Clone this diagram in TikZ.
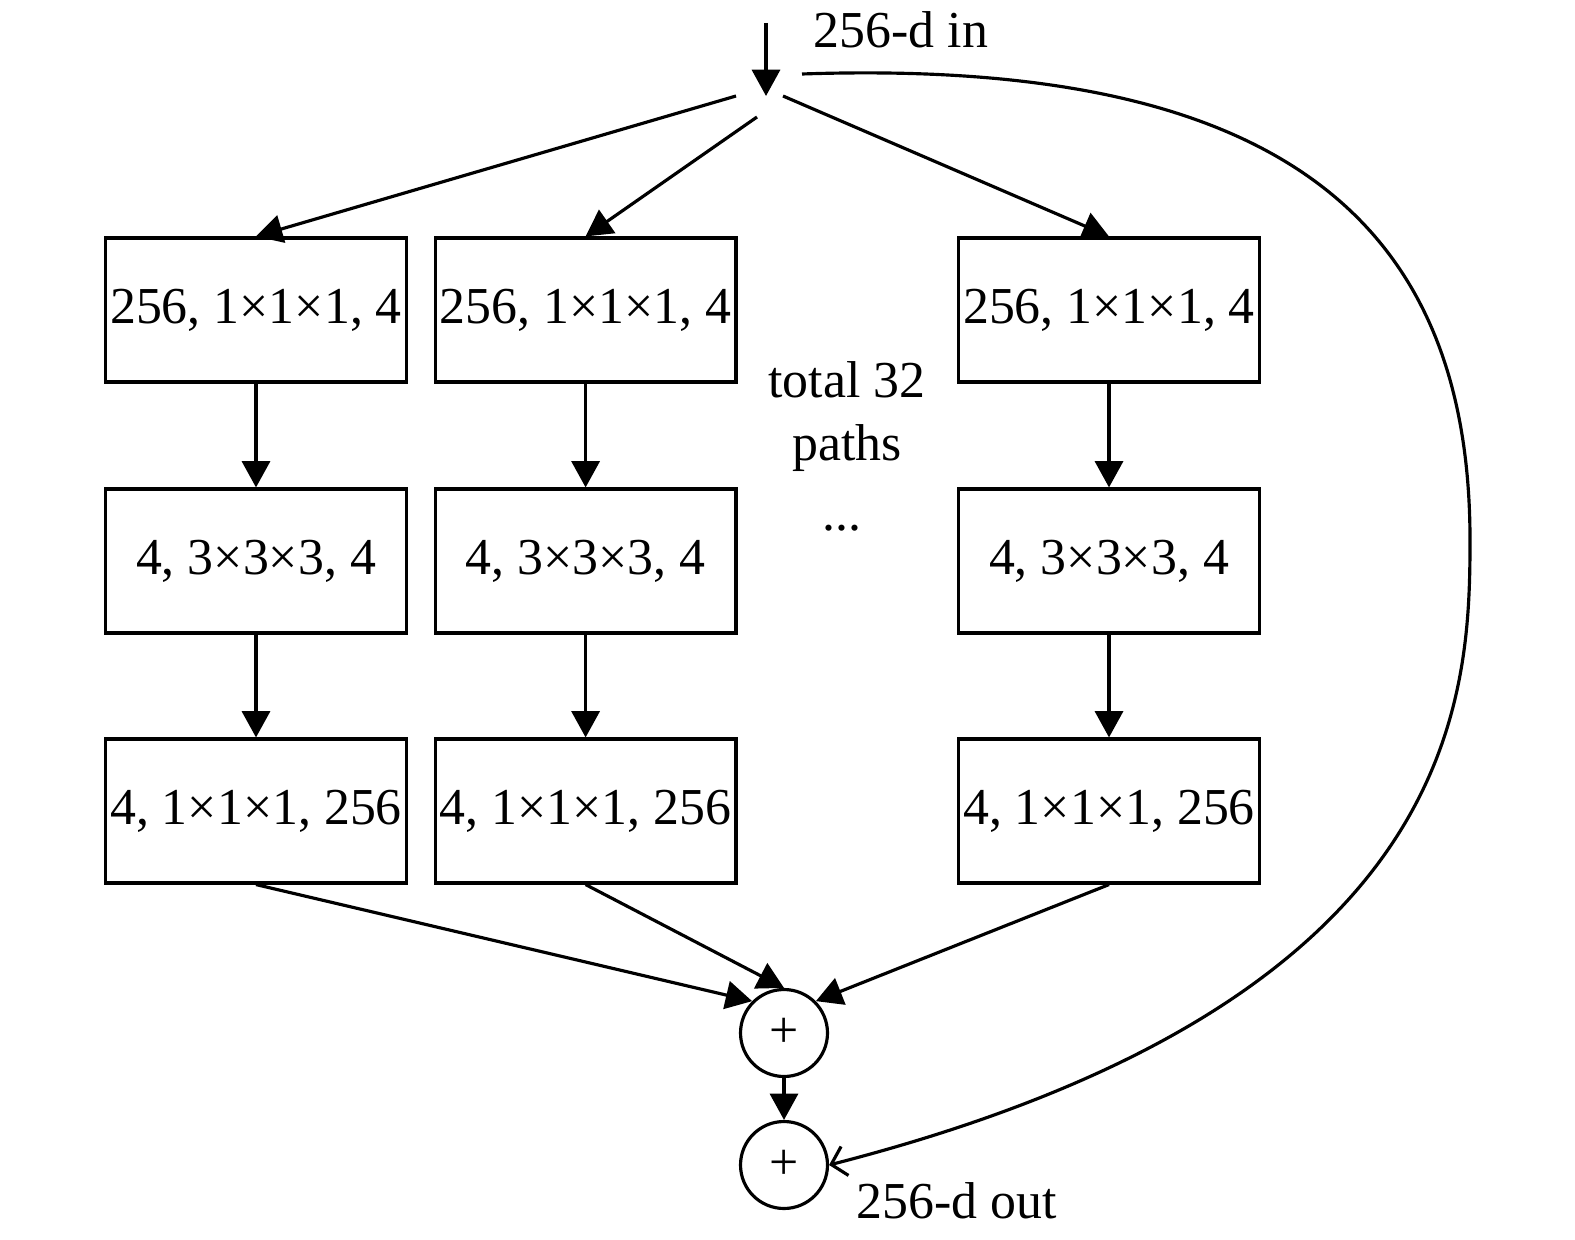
\documentclass[tikz,border=0pt]{standalone}
\usepackage{fontspec}
\setmainfont{Liberation Serif}
\usetikzlibrary{arrows.meta}
\begin{document}
\begin{tikzpicture}[x=0.02cm,y=-0.02cm,
  every node/.style={font=\fontsize{29.5}{35.4}\selectfont},
  blk/.style={draw,line width=1.8pt,minimum width=6.02cm,minimum height=2.88cm,inner sep=0pt},
  sumnode/.style={draw,circle,line width=1.8pt,minimum size=1.74cm,inner sep=0pt},
  conn/.style={line width=1.8pt,-{Triangle[length=15pt,width=16pt]}},
  lbl/.style={anchor=base,inner sep=0pt}]
\useasboundingbox (0,0) rectangle (1575,1240);
% blocks
\node[blk] (b11) at (256,310) {256, 1×1×1, 4};
\node[blk] (b12) at (256,561) {4, 3×3×3, 4};
\node[blk] (b13) at (256,811) {4, 1×1×1, 256};
\node[blk] (b21) at (585.6,310) {256, 1×1×1, 4};
\node[blk] (b22) at (585.6,561) {4, 3×3×3, 4};
\node[blk] (b23) at (585.6,811) {4, 1×1×1, 256};
\node[blk] (b31) at (1109,310) {256, 1×1×1, 4};
\node[blk] (b32) at (1109,561) {4, 3×3×3, 4};
\node[blk] (b33) at (1109,811) {4, 1×1×1, 256};
% sums
\node[sumnode] (sum1) at (784,1033) {+};
\node[sumnode] (sum2) at (784,1165) {+};
% labels
\node[lbl] (inlbl) at (901,48) {256-d in};
\node[lbl] (outlbl) at (957,1218) {256-d out};
\node[lbl] (total) at (847,397) {total 32};
\node[lbl] (paths) at (847,460) {paths};
\node[lbl] (dots) at (842,530) {...};
% coordinates
\coordinate (intop) at (766,23);
\coordinate (split) at (766,96);
\coordinate (sL) at (736,96);
\coordinate (sM) at (757,117);
\coordinate (sR) at (783,96);
\coordinate (cS) at (802,74);
\coordinate (q) at (1470,540);
% connectors
\draw[conn] (intop) -- (split);
\draw[conn] (sL) -- (b11.north);
\draw[conn] (sM) -- (b21.north);
\draw[conn] (sR) -- (b31.north);
\foreach \c in {1,2,3}{
  \draw[conn] (b\c1.south) -- (b\c2.north);
  \draw[conn] (b\c2.south) -- (b\c3.north);
}
\draw[conn] (b13.south) -- (sum1.135);
\draw[conn] (b23.south) -- (sum1.north);
\draw[conn] (b33.south) -- (sum1.45);
\draw[conn] (sum1.south) -- (sum2.north);
\draw[line width=1.8pt,-{Straight Barb[length=8pt,width=17pt]}] (cS) .. controls (1270,58) and (1470,214) .. (q) .. controls (1470,700) and (1460,1003) .. (sum2.east);
\end{tikzpicture}
\end{document}
